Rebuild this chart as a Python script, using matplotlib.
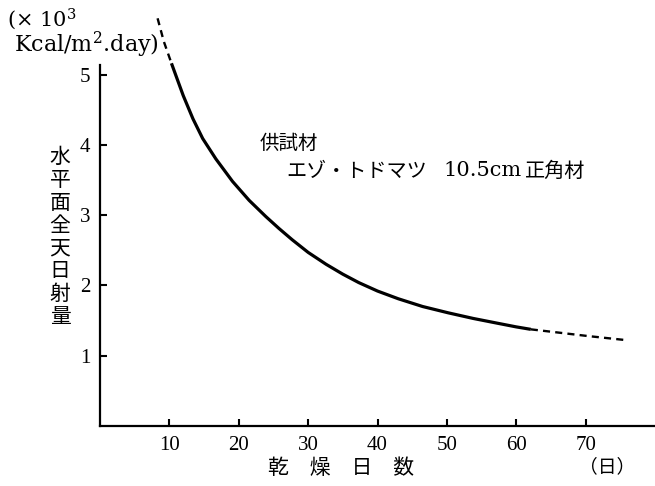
"""
Drying days vs. daily total horizontal solar radiation
"""
import matplotlib
matplotlib.use("Agg")
import matplotlib.pyplot as plt

# curve (drying days, x10^3 kcal/m2.day)
days = [8.3, 9.2, 10.3, 11.0, 12.0, 13.4, 14.8, 16.7, 19.1, 21.5, 23.9, 25.8, 27.7, 30.0,
        32.6, 35.0, 37.3, 40.0, 43.0, 46.5, 50.2, 53.8, 57.4, 60.0, 62.1, 66.0, 70.3, 76.0]
radiation = [5.80, 5.47, 5.16, 4.97, 4.70, 4.37, 4.09, 3.80, 3.48, 3.21, 2.98, 2.81, 2.65, 2.47,
             2.30, 2.16, 2.04, 1.92, 1.81, 1.70, 1.61, 1.53, 1.46, 1.41, 1.375, 1.33, 1.28, 1.22]
solid_from, solid_to = 10.3, 62.1  # measured part, dashed outside

x_ticks = [10, 20, 30, 40, 50, 60, 70]
y_ticks = [1, 2, 3, 4, 5]

SERIF = ["Liberation Serif", "DejaVu Serif"]
WIDE = ["DejaVu Serif"]
JP = ["Noto Sans CJK JP", "DejaVu Sans"]

W, H = 655, 486


def main():
    plt.rcParams["mathtext.fontset"] = "dejavuserif"
    fig = plt.figure(figsize=(W / 100, H / 100), dpi=100)
    ax = fig.add_axes([100 / W, 60 / H, 1 - 100 / W, (426 - 64.7) / H])

    pts = list(zip(days, radiation))
    head = [p for p in pts if p[0] <= solid_from]
    body = [p for p in pts if solid_from <= p[0] <= solid_to]
    tail = [p for p in pts if p[0] >= solid_to]

    ax.plot(*zip(*body), color="black", lw=2.3, solid_capstyle="butt",
            solid_joinstyle="round", clip_on=False)
    for seg in (head, tail):
        ax.plot(*zip(*seg), color="black", lw=1.7, linestyle=(0, (3, 2.2)), clip_on=False)

    ax.set_xlim(0, 80)
    ax.set_ylim(0, 5.14)
    ax.set_xticks(x_ticks)
    ax.set_yticks(y_ticks)
    ax.tick_params(direction="in", length=5, width=1.5, labelsize=15, pad=7)
    for lab in ax.get_xticklabels() + ax.get_yticklabels():
        lab.set_family(SERIF)

    for s in ("top", "right"):
        ax.spines[s].set_visible(False)
    for s in ("left", "bottom"):
        ax.spines[s].set_linewidth(1.6)

    # y unit, top left
    fig.text(7 / W, 1 - 19 / H, r"(× 10$^3$", family=WIDE, fontsize=15, va="center", ha="left")
    fig.text(14 / W, 1 - 45 / H, r"Kcal/m$^2$.day)", family=WIDE, fontsize=16, va="center", ha="left")

    # y label, stacked vertically
    fig.text(60 / W, 1 - 237 / H, "\n".join("水平面全天日射量"), family=JP, fontsize=15,
             ha="center", va="center", linespacing=1.05)

    # x label and unit
    fig.text(341 / W, 1 - 468 / H, "乾　燥　日　数", family=JP, fontsize=15, ha="center", va="center")
    fig.text(607 / W, 1 - 467 / H, "（日）", family=JP, fontsize=13.5, ha="center", va="center")

    # specimen note
    fig.text(260 / W, 1 - 143 / H, "供試材", family=JP, fontsize=14, ha="left", va="center")
    fig.text(286 / W, 1 - 171 / H, "エゾ・トドマツ", family=JP, fontsize=14.5, ha="left", va="center")
    fig.text(443 / W, 1 - 171 / H, "10.5cm", family=WIDE, fontsize=15, ha="left", va="center")
    fig.text(525 / W, 1 - 171 / H, "正角材", family=JP, fontsize=14.5, ha="left", va="center")

    fig.savefig("out.png", dpi=100)
    plt.close(fig)


if __name__ == "__main__":
    main()
